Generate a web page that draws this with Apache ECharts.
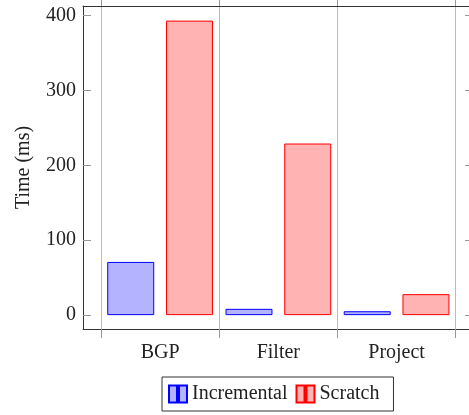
<!DOCTYPE html>
<html>
<head>
<meta charset="utf-8">
<script src="https://cdn.jsdelivr.net/npm/echarts@6/dist/echarts.min.js"></script>
<style>
html,body{margin:0;padding:0;background:#fff;}
#chart{width:469px;height:415px;}
</style>
</head>
<body>
<div id="chart"></div>
<script>
const categories = ['BGP', 'Filter', 'Project'];
const incremental = [71, 8.4, 5.2];
const scratch = [393, 229, 28];
const yTicks = [0, 100, 200, 300, 400];
const seriesNames = ['Incremental', 'Scratch'];

const FONT = 'Liberation Serif';
const YMIN = -18.5, YMAX = 412.5;
const chart = echarts.init(document.getElementById('chart'));
const legendIcon = 'path://M0,0h8v17h-8z M10,0h8v17h-8z';
const frameLine = { show: true, onZero: false, lineStyle: { color: '#333', width: 1 } };

chart.setOption({
  animation: false,
  textStyle: { fontFamily: FONT },
  grid: [
    { left: 83, right: 0, top: 6, bottom: 86 },
    { left: 101, right: 13.3, top: 6, bottom: 86 }
  ],
  xAxis: [
    { gridIndex: 0, type: 'value', min: 0, max: 1, position: 'bottom',
      axisLine: frameLine, axisTick: { show: false }, axisLabel: { show: false }, splitLine: { show: false } },
    { gridIndex: 1, type: 'category', data: categories, position: 'bottom',
      axisLine: { show: false, onZero: false },
      axisTick: { show: true, length: 9, lineStyle: { color: '#999' } },
      splitLine: { show: true, lineStyle: { color: '#bbb', width: 1 } },
      axisLabel: { fontFamily: FONT, fontSize: 20, color: '#222', margin: 14 } },
    { gridIndex: 1, type: 'category', data: categories, position: 'top',
      axisLine: { show: false, onZero: false },
      axisTick: { show: true, length: 9, lineStyle: { color: '#999' } },
      splitLine: { show: false },
      axisLabel: { show: false } },
    { gridIndex: 0, type: 'value', min: 0, max: 1, position: 'top',
      axisLine: frameLine, axisTick: { show: false }, axisLabel: { show: false }, splitLine: { show: false } }
  ],
  yAxis: [
    { gridIndex: 0, type: 'value', position: 'left', min: YMIN, max: YMAX,
      name: 'Time (ms)', nameLocation: 'middle', nameGap: 49,
      nameTextStyle: { fontFamily: FONT, fontSize: 20, color: '#222' },
      axisLine: frameLine,
      axisTick: { show: true, inside: true, length: 8, customValues: yTicks, lineStyle: { color: '#999' } },
      axisLabel: { fontFamily: FONT, fontSize: 20, color: '#222', margin: 7, customValues: yTicks },
      splitLine: { show: false } },
    { gridIndex: 0, type: 'value', position: 'right', min: YMIN, max: YMAX,
      axisLine: { show: false, onZero: false },
      axisTick: { show: true, inside: true, length: 4, customValues: yTicks, lineStyle: { color: '#999' } },
      axisLabel: { show: false },
      splitLine: { show: false } },
    { gridIndex: 1, type: 'value', min: YMIN, max: YMAX, show: false, splitLine: { show: false } }
  ],
  legend: {
    left: 162, top: 377,
    data: [{ name: seriesNames[0], icon: legendIcon }, { name: seriesNames[1], icon: legendIcon }],
    itemWidth: 18, itemHeight: 17, itemGap: 8,
    padding: [7, 14, 7, 6],
    borderColor: '#333', borderWidth: 1, borderRadius: 0,
    textStyle: { fontFamily: FONT, fontSize: 20, color: '#222' }
  },
  series: [
    { name: seriesNames[0], type: 'bar', xAxisIndex: 1, yAxisIndex: 2, data: incremental,
      barWidth: 47, barGap: '25%',
      itemStyle: { color: '#b3b3ff', borderColor: '#0000ff', borderWidth: 1 } },
    { name: seriesNames[1], type: 'bar', xAxisIndex: 1, yAxisIndex: 2, data: scratch,
      barWidth: 47, barGap: '25%',
      itemStyle: { color: '#ffb3b3', borderColor: '#ff0000', borderWidth: 1 } }
  ]
});
</script>
</body>
</html>
